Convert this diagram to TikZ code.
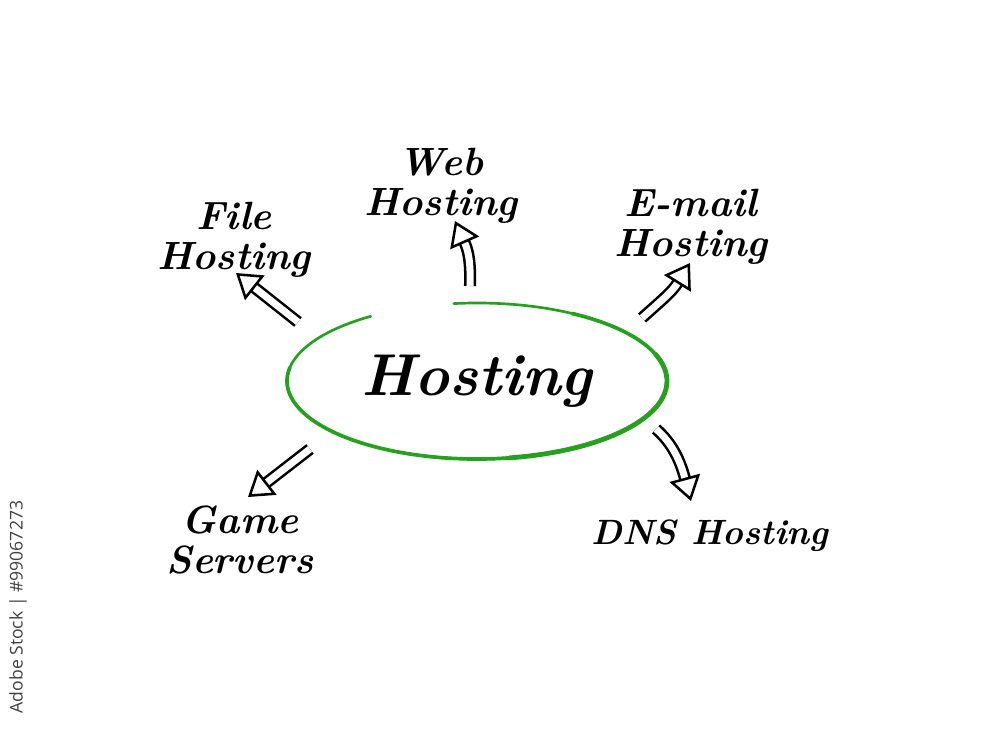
\documentclass[tikz,border=0pt]{standalone}
\usepackage{fontspec}
\usepackage{tikz}
\usetikzlibrary{arrows.meta,shapes.geometric}
\newfontfamily\stockfont{Open Sans}
\definecolor{hostgreen}{RGB}{38,160,30}
\tikzset{
  lbl/.style    ={font=\fontsize{28}{28.5}\selectfont\bfseries\itshape,
                  align=center, inner sep=0pt},
  hub/.style    ={ellipse, minimum width=9.5cm, minimum height=4cm,
                  inner sep=0pt, font=\fontsize{42}{46}\selectfont\bfseries\itshape},
  ring/.style   ={hostgreen, line cap=round},
  harrow/.style ={line width=1.8pt, double, double distance=5pt,
                  -{Triangle[open, length=6mm, width=7.8mm]}},
  stock/.style  ={font=\stockfont\fontsize{12.5}{13}\selectfont,
                  text=black!75, rotate=90, inner sep=0pt},
}
\begin{document}
\begin{tikzpicture}[x=0.025cm, y=-0.025cm]
\useasboundingbox (0,0) rectangle (1000,731);
\node[hub] (hub) at (477,381) {Hosting};
% hand drawn ring, open at the top left
\draw[ring, line width=1.9pt] (hub.center) ++(-97:190 and 78)
  arc[start angle=-97, end angle=236, x radius=190, y radius=78];
\draw[ring, line width=2.6pt] (hub.center) ++(-60:190 and 78)
  arc[start angle=-60, end angle=190, x radius=190, y radius=78];
\draw[ring, line width=3.4pt] (hub.center) ++(-20:190 and 78)
  arc[start angle=-20, end angle=80, x radius=190, y radius=78];
\node[lbl] (file) at (234,240) {File\\Hosting};
\node[lbl] (web) at (441,186) {Web\\Hosting};
\node[lbl] (mail) at (691,227) {E-mail\\Hosting};
\node[lbl] (game) at (240,540) {Game\\Servers};
\node[lbl, font=\fontsize{25}{28.5}\selectfont\bfseries\itshape] (dns) at (710,536) {DNS Hosting};
\node[stock] (id) at (18,607) {Adobe Stock | \#99067273};
% arrow ends
\coordinate (f0) at (298,322);
\coordinate (f1) at (236,273);
\coordinate (w0) at (470,286);
\coordinate (w1) at (455,221);
\coordinate (m0) at (642,318);
\coordinate (m1) at (690,263);
\coordinate (g0) at (310,449);
\coordinate (g1) at (248,497);
\coordinate (d0) at (656,429);
\coordinate (d1) at (691,501);
\draw[harrow] (f0) -- (f1);
\draw[harrow] (w0) .. controls (471,258) and (467,248) .. (w1);
\draw[harrow] (m0) .. controls (662,300) and (672,292) .. (m1);
\draw[harrow] (g0) -- (g1);
\draw[harrow] (d0) .. controls (672,443) and (680,460) .. (d1);
\end{tikzpicture}
\end{document}
